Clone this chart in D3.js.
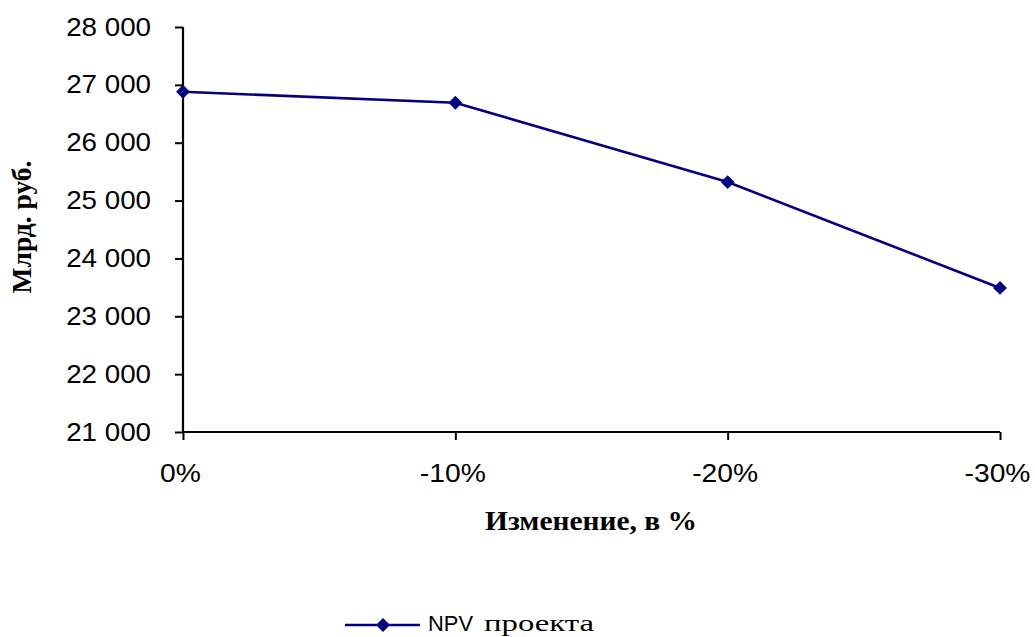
<!DOCTYPE html>
<html><head><meta charset="utf-8">
<script src="https://cdn.jsdelivr.net/npm/d3@7"></script>
<style>body{margin:0;background:#fff}</style>
</head><body>
<svg id="c" width="1035" height="637"></svg>
<script>
const categories = ["0%", "-10%", "-20%", "-30%"];
const npvValues = [26880, 26690, 25320, 23490];
const yTicks = [21000, 22000, 23000, 24000, 25000, 26000, 27000, 28000];
const seriesName = ["NPV", "проекта"];

const SANS = "Arial, 'Liberation Sans', sans-serif";
const SERIF = "'Times New Roman', 'Liberation Serif', serif";
const svg = d3.select("#c");
const L = 183, R = 1000, T = 27, B = 432;
const x = d3.scalePoint().domain(categories).range([L, R]);
const y = d3.scaleLinear().domain([21000, 28000]).range([B, T]);
const fmt = v => d3.format(",")(v).replace(",", " ");
const stretch = (sel, k) => sel.each(function () {
  const w = this.getComputedTextLength();
  d3.select(this).attr("textLength", w * k).attr("lengthAdjust", "spacingAndGlyphs");
});

const yAxis = svg.append("g").attr("transform", `translate(${L},0)`)
  .call(d3.axisLeft(y).tickValues(yTicks).tickFormat(fmt).tickSize(8).tickPadding(20));
const xAxis = svg.append("g").attr("transform", `translate(0,${B})`)
  .call(d3.axisBottom(x).tickSize(8).tickPadding(20));
[yAxis, xAxis].forEach(g => {
  g.attr("font-family", SANS).attr("font-size", 25);
  g.select(".domain").attr("stroke", "#000").attr("stroke-width", 2.2);
  g.selectAll(".tick line").attr("stroke", "#000").attr("stroke-width", 2);
  g.selectAll("text").attr("font-family", SANS).attr("font-size", 25).attr("fill", "#000");
});
yAxis.select(".domain").attr("d", `M0,${T}V${B}`);
xAxis.select(".domain").attr("d", `M${L},0H${R}`);
yAxis.selectAll("text").attr("x", -32).attr("dy", null).attr("y", 8);
xAxis.selectAll("text").attr("dy", null).attr("y", 50).attr("x", -3);
stretch(yAxis.selectAll("text"), 1.11);
stretch(xAxis.selectAll("text"), 1.13);

const diamond = d3.symbol().type(d3.symbolSquare).size(96);
const pts = categories.map((c, i) => [x(c), y(npvValues[i])]);
svg.append("path").attr("d", d3.line()(pts)).attr("fill", "none")
  .attr("stroke", "#000080").attr("stroke-width", 2.6);
svg.selectAll(".pt").data(pts).enter().append("path")
  .attr("d", diamond).attr("transform", d => `translate(${d[0]},${d[1]}) rotate(45)`)
  .attr("fill", "#000080");

svg.append("text").attr("transform", "translate(31,227) rotate(-90)")
  .attr("text-anchor", "middle").attr("font-family", SERIF)
  .attr("font-weight", "bold").attr("font-size", 28).text("Млрд. руб.")
  .attr("textLength", 133).attr("lengthAdjust", "spacingAndGlyphs");
svg.append("text").attr("x", 591).attr("y", 530)
  .attr("text-anchor", "middle").attr("font-family", SERIF)
  .attr("font-weight", "bold").attr("font-size", 28).text("Изменение, в %")
  .attr("textLength", 212).attr("lengthAdjust", "spacingAndGlyphs");

const lg = svg.append("g");
lg.append("line").attr("x1", 345).attr("x2", 420).attr("y1", 625).attr("y2", 625)
  .attr("stroke", "#000080").attr("stroke-width", 2.6);
lg.append("path").attr("d", diamond).attr("transform", "translate(383,625) rotate(45)").attr("fill", "#000080");
lg.append("text").attr("x", 428).attr("y", 631).attr("font-family", SANS).attr("font-size", 22)
  .text(seriesName[0]).attr("textLength", 45).attr("lengthAdjust", "spacingAndGlyphs");
lg.append("text").attr("x", 484).attr("y", 631).attr("font-family", SERIF).attr("font-size", 24)
  .text(seriesName[1]).attr("textLength", 110).attr("lengthAdjust", "spacingAndGlyphs");
</script>
</body></html>
